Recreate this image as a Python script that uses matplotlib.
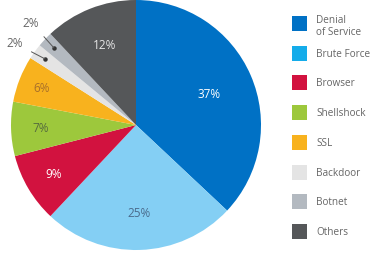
import matplotlib
matplotlib.use("Agg")
import matplotlib.pyplot as plt
import numpy as np
from matplotlib.patches import Rectangle

categories = ["Denial\nof Service", "Brute Force", "Browser", "Shellshock", "SSL",
              "Backdoor", "Botnet", "Others"]
values = [37, 25, 9, 7, 6, 2, 2, 12]
pct_labels = ["37%", "25%", "9%", "7%", "6%", "2%", "2%", "12%"]

slice_colors = ["#0071C5", "#84CFF4", "#D2123F", "#9DC83C", "#F8B21E", "#E4E4E4", "#B3B9C0", "#555759"]
legend_colors = ["#0071C5", "#14ACEA", "#D2123F", "#9DC83C", "#F8B21E", "#E4E4E4", "#B3B9C0", "#555759"]
label_colors = ["#FFFFFF", "#4A6B8C", "#FFFFFF", "#566B3E", "#A8702A", "#666666", "#666666", "#E6E6E6"]
label_radii = [0.64, 0.70, 0.77, 0.76, 0.81, None, None, 0.69]
outside_angle_shift = [0, 0, 0, 0, 0, 2.0, -1.2, 0]

plt.rcParams['font.family'] = ['Open Sans', 'DejaVu Sans']

W, H = 381, 255
fig = plt.figure(figsize=(W / 100, H / 100), dpi=100)
ax = fig.add_axes([0, 0, 1, 1])

cx, cy, R = 136, H - 126, 125
wedges, _ = ax.pie(values, colors=slice_colors, startangle=90, counterclock=False,
                   center=(cx, cy), radius=R, frame=True,
                   wedgeprops=dict(linewidth=0))
ax.set_xlim(0, W)
ax.set_ylim(0, H)
ax.set_aspect('equal')
ax.axis('off')

for w, lab, col, rf, sh in zip(wedges, pct_labels, label_colors, label_radii, outside_angle_shift):
    mid = np.deg2rad((w.theta1 + w.theta2) / 2)
    dx, dy = np.cos(mid), np.sin(mid)
    if rf is not None:
        ax.text(cx + rf * R * dx, cy + rf * R * dy, lab, color=col, fontsize=8.5,
                ha='center', va='center')
    else:
        px, py = cx + 0.9 * R * dx, cy + 0.9 * R * dy
        ta = mid + np.deg2rad(sh)
        ax.annotate(lab, xy=(px, py),
                    xytext=(cx + 1.175 * R * np.cos(ta), cy + 1.175 * R * np.sin(ta)),
                    color="#666666", fontsize=8.5, ha='center', va='center',
                    arrowprops=dict(arrowstyle='-', color='#555555', lw=0.7,
                                    shrinkA=5, shrinkB=0))
        ax.plot(px, py, 'o', color='#333333', ms=2.2)

# legend
for i, (name, col) in enumerate(zip(categories, legend_colors)):
    top = 17 + i * 29.7
    ax.add_patch(Rectangle((292, H - top - 15), 15, 15, facecolor=col, edgecolor='none'))
    if "\n" in name:
        ax.text(316, H - top + 2, name, color="#666666", fontsize=7.2,
                ha='left', va='top', linespacing=1.1)
    else:
        ax.text(316, H - top - 7.5, name, color="#666666", fontsize=7.2,
                ha='left', va='center')

fig.savefig("out.png", dpi=100)
